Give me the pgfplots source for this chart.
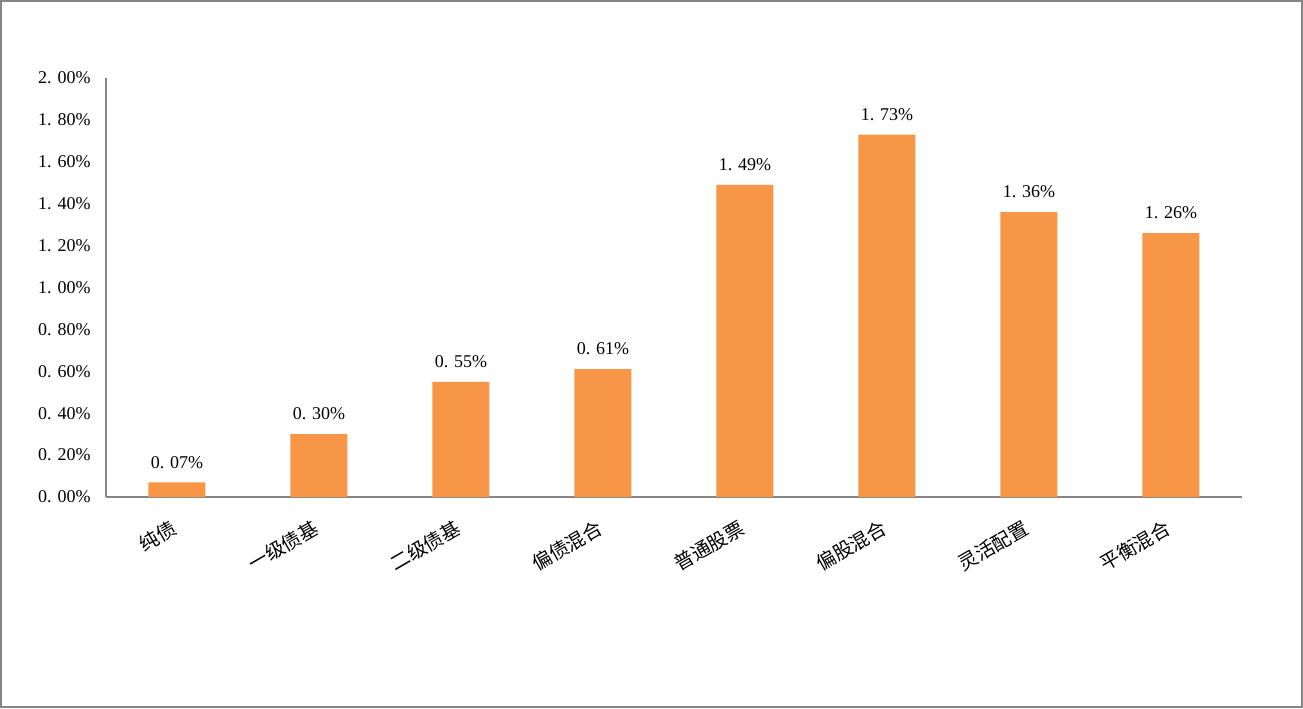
\documentclass[border=0pt]{standalone}
\usepackage{fontspec}
\setmainfont{Liberation Serif}
\newfontfamily\cjk{Noto Sans CJK SC}
\usepackage{pgfplots}
\pgfplotsset{compat=1.18}
\definecolor{barorange}{HTML}{F79646}
\definecolor{axisgray}{HTML}{868686}
\begin{document}
\begin{tikzpicture}
\begin{axis}[
    at={(0,0)}, anchor=south west,
    scale only axis, width=852pt, height=314.25pt,
    xmin=-0.5, xmax=7.5, ymin=0, ymax=2,
    axis x line*=bottom, axis y line*=left,
    axis line style={draw=axisgray, line width=1.2pt, -},
    major tick length=0pt,
    xtick={0,1,2,3,4,5,6,7},
    xticklabels={纯债,一级债基,二级债基,偏债混合,普通股票,偏股混合,灵活配置,平衡混合},
    xticklabel style={font=\cjk\fontsize{14.5}{16}\selectfont, rotate=30, anchor=north east, yshift=-8pt, xshift=-9pt},
    ytick={0,0.2,0.4,0.6,0.8,1.0,1.2,1.4,1.6,1.8,2.0},
    yticklabels={0. 00\%,0. 20\%,0. 40\%,0. 60\%,0. 80\%,1. 00\%,1. 20\%,1. 40\%,1. 60\%,1. 80\%,2. 00\%},
    yticklabel style={font=\fontsize{13.5}{15}\selectfont, xshift=-8pt},
    ybar, bar width=42.75pt,
    nodes near coords, point meta=explicit symbolic,
    every node near coord/.append style={font=\fontsize{13.5}{15}\selectfont, text=black, yshift=7pt},
]
\addplot[fill=barorange, draw=none] coordinates {
    (0,0.07) [0. 07\%]
    (1,0.30) [0. 30\%]
    (2,0.55) [0. 55\%]
    (3,0.61) [0. 61\%]
    (4,1.49) [1. 49\%]
    (5,1.73) [1. 73\%]
    (6,1.36) [1. 36\%]
    (7,1.26) [1. 26\%]
};
\end{axis}
\draw[axisgray, line width=1.5pt] (-78.75pt,-157.5pt) rectangle (897pt,372pt);
\end{tikzpicture}
\end{document}
